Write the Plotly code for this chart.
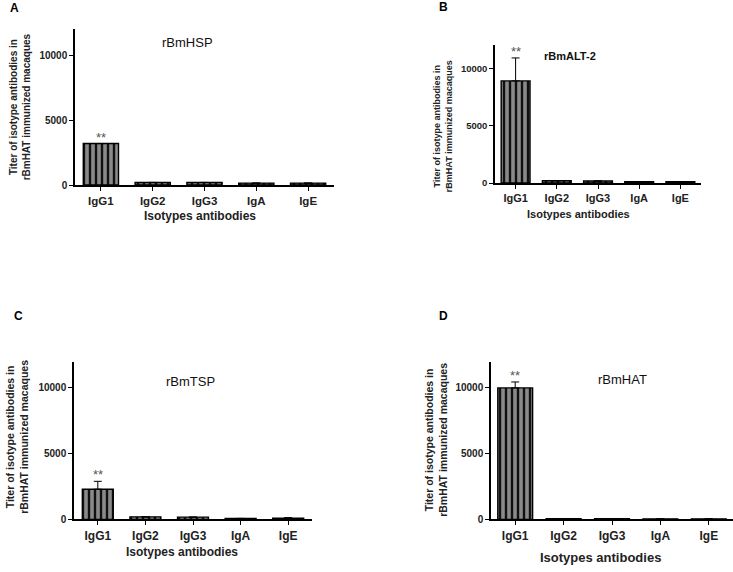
import plotly.graph_objects as go

W, H = 733, 572

categories = ["IgG1", "IgG2", "IgG3", "IgA", "IgE"]
panel_letters = ["A", "B", "C", "D"]
panel_titles = ["rBmHSP", "rBmALT-2", "rBmTSP", "rBmHAT"]

values_hsp = [3200, 200, 200, 150, 150]
errors_hsp = [0, 0, 0, 0, 0]
values_alt2 = [8900, 200, 180, 120, 120]
errors_alt2 = [2000, 0, 0, 0, 0]
values_tsp = [2300, 200, 180, 80, 100]
errors_tsp = [600, 0, 0, 0, 40]
values_hat = [10000, 60, 60, 50, 50]
errors_hat = [450, 0, 0, 0, 0]

y_ticks = [0, 5000, 10000]
y_ticklabels = ["0", "5000", "10000"]
y_max = 12000
y_title = "Titer of isotype antibodies in<br>rBmHAT immunized macaques"
x_title = "Isotypes antibodies"

FONT = "Liberation Sans, Arial, sans-serif"

# layout in pixels: (x0, x1, ytop, ybottom)
panels = [
    dict(vals=values_hsp, errs=errors_hsp, box=(75, 334, 29.8, 187), bw=0.68,
         title=dict(x=187, y=43, size=13, bold=False),
         letter=(8, 8), ytitle=(19.5, 108, 10), xtitle=(200, 218, 12),
         tick=10, cat=11.5),
    dict(vals=values_alt2, errs=errors_alt2, box=(495, 701, 45.8, 185), bw=0.70,
         title=dict(x=570, y=57, size=11, bold=True),
         letter=(437, 7), ytitle=(442.5, 128, 9), xtitle=(578, 216, 11),
         tick=9.5, cat=11),
    dict(vals=values_tsp, errs=errors_tsp, box=(74, 312, 365.4, 525), bw=0.65,
         title=dict(x=190, y=386, size=13, bold=False),
         letter=(12, 319), ytitle=(17.5, 442, 10.5), xtitle=(182, 558, 12),
         tick=10, cat=12),
    dict(vals=values_hat, errs=errors_hat, box=(491, 733, 365.4, 525), bw=0.72,
         title=dict(x=622, y=384, size=13, bold=False),
         letter=(437, 319), ytitle=(436.5, 445, 10.5), xtitle=(600, 563, 13),
         tick=10, cat=12),
]

fig = go.Figure()
annotations = []

for i, p in enumerate(panels):
    n = i + 1
    xa = "x" if n == 1 else f"x{n}"
    ya = "y" if n == 1 else f"y{n}"
    x0, x1, yt, yb = p["box"]
    fig.add_trace(go.Bar(
        x=categories, y=p["vals"], width=p["bw"],
        xaxis=xa, yaxis=ya, showlegend=False,
        marker=dict(color="#8a8a8a",
                    line=dict(color="black", width=1.4),
                    pattern=dict(shape="|", size=6, solidity=0.4,
                                 fgcolor="#111111", bgcolor="#8a8a8a",
                                 fillmode="replace")),
        error_y=dict(type="data", array=p["errs"],
                     arrayminus=[0] * len(p["errs"]), symmetric=False,
                     visible=True, color="black", thickness=1, width=4),
    ))
    lay_x = "xaxis" if n == 1 else f"xaxis{n}"
    lay_y = "yaxis" if n == 1 else f"yaxis{n}"
    fig.layout[lay_x] = dict(
        domain=[x0 / W, x1 / W], anchor=ya, type="category",
        range=[-0.5, 4.5], showline=True, linecolor="black", linewidth=1.5,
        ticks="outside", ticklen=4, tickcolor="black", tickwidth=1,
        showgrid=False, zeroline=False,
        tickfont=dict(family=FONT, size=p["cat"], color="#222", weight="bold"),
    )
    fig.layout[lay_y] = dict(
        domain=[(H - yb) / H, (H - yt) / H], anchor=xa,
        range=[0, y_max], tickvals=y_ticks, ticktext=y_ticklabels,
        showline=True, linecolor="black",
        linewidth=1.5, ticks="outside", ticklen=4, tickcolor="black",
        tickwidth=1, showgrid=False, zeroline=False,
        tickfont=dict(family=FONT, size=p["tick"], color="#222", weight="bold"),
    )
    # significance stars
    top = p["vals"][0] + p["errs"][0]
    annotations.append(dict(
        x=categories[0], y=top, xref=xa, yref=ya, text="**", showarrow=False,
        yanchor="bottom", yshift=-3,
        font=dict(family=FONT, size=13, color="#555")))
    t = p["title"]
    annotations.append(dict(
        x=t["x"] / W, y=(H - t["y"]) / H, xref="paper", yref="paper",
        text=panel_titles[i], showarrow=False, xanchor="center", yanchor="middle",
        font=dict(family=FONT, size=t["size"], color="#111",
                  weight="bold" if t["bold"] else "normal")))
    lx, ly = p["letter"]
    annotations.append(dict(
        x=lx / W, y=(H - ly) / H, xref="paper", yref="paper",
        text=panel_letters[i], showarrow=False, xanchor="left", yanchor="middle",
        font=dict(family=FONT, size=12, color="black", weight="bold")))
    tx, ty, ts = p["ytitle"]
    annotations.append(dict(
        x=tx / W, y=(H - ty) / H, xref="paper", yref="paper",
        text=y_title, showarrow=False, textangle=-90,
        xanchor="center", yanchor="middle",
        font=dict(family=FONT, size=ts, color="#222", weight="bold")))
    xx, xy, xs = p["xtitle"]
    annotations.append(dict(
        x=xx / W, y=(H - xy) / H, xref="paper", yref="paper",
        text=x_title, showarrow=False, xanchor="center", yanchor="middle",
        font=dict(family=FONT, size=xs, color="#222", weight="bold")))

fig.update_layout(
    width=W, height=H, margin=dict(l=0, r=0, t=0, b=0),
    paper_bgcolor="white", plot_bgcolor="white",
    bargap=0.3, annotations=annotations,
)

fig.write_html("out.html", config={"displayModeBar": False},
               post_script="document.body.style.margin='0px';")
